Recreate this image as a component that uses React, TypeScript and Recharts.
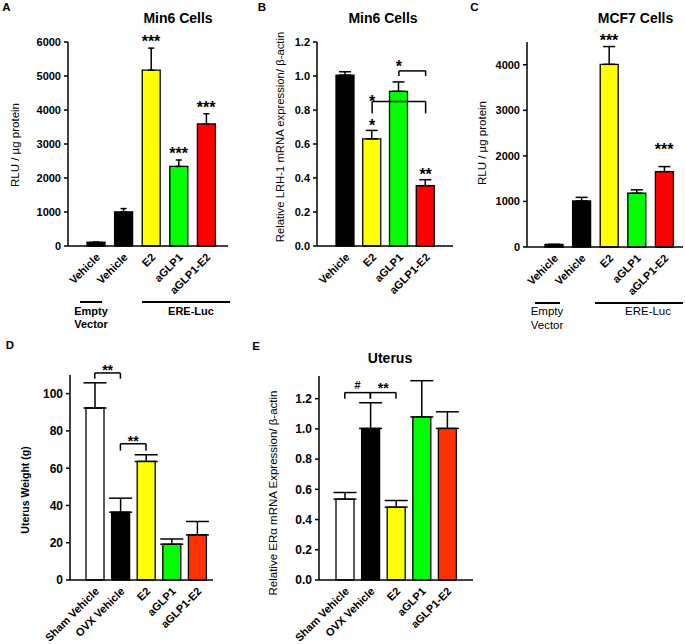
import React from 'react';
import { BarChart, Bar, XAxis, YAxis, ErrorBar, Cell, ReferenceLine, ReferenceDot } from 'recharts';

const FONT = '"Liberation Sans", Arial, Helvetica, sans-serif';

// A - Min6 cells, ERE-Luc reporter
const aGroups = ['Empty Vehicle', 'Vehicle', 'E2', 'aGLP1', 'aGLP1-E2'];
const aLabels = ['Vehicle', 'Vehicle', 'E2', 'aGLP1', 'aGLP1-E2'];
const aMean = [110, 1005, 5170, 2340, 3590];
const aSem = [0, 95, 650, 190, 300];
const aColors = ['#000000', '#000000', '#FFFF00', '#00FF00', '#FF0000'];
const aTicks = [0, 1000, 2000, 3000, 4000, 5000, 6000];
const aStars = [
  { x: 'E2', y: 5820, text: '***' },
  { x: 'aGLP1', y: 2530, text: '***' },
  { x: 'aGLP1-E2', y: 3890, text: '***' },
];

// B - Min6 cells, LRH-1 mRNA
const bGroups = ['Vehicle', 'E2', 'aGLP1', 'aGLP1-E2'];
const bLabels = ['Vehicle', 'E2', 'aGLP1', 'aGLP1-E2'];
const bMean = [1.005, 0.63, 0.91, 0.355];
const bSem = [0.02, 0.05, 0.055, 0.035];
const bColors = ['#000000', '#FFFF00', '#00FF00', '#FF0000'];
const bTicks = [0, 0.2, 0.4, 0.6, 0.8, 1.0, 1.2];
const bStars = [
  { x: 'E2', y: 0.67, text: '*' },
  { x: 'aGLP1-E2', y: 0.385, text: '**' },
  { x: 'aGLP1', y: 1.015, text: '*' },
  { x: 'E2', y: 0.81, text: '*' },
];
const bBrackets = [
  { from: 'aGLP1', to: 'aGLP1-E2', y: 1.03, foot: 1.0, text: '' },
  { from: 'E2', to: 'aGLP1-E2', y: 0.85, foot: 0.78, text: '' },
];

// C - MCF7 cells, ERE-Luc reporter
const cGroups = ['Empty Vehicle', 'Vehicle', 'E2', 'aGLP1', 'aGLP1-E2'];
const cLabels = ['Vehicle', 'Vehicle', 'E2', 'aGLP1', 'aGLP1-E2'];
const cMean = [55, 1010, 4010, 1180, 1655];
const cSem = [0, 80, 390, 75, 110];
const cColors = ['#000000', '#000000', '#FFFF00', '#00FF00', '#FF0000'];
const cTicks = [0, 1000, 2000, 3000, 4000];
const cStars = [
  { x: 'E2', y: 4400, text: '***' },
  { x: 'aGLP1-E2', y: 1990, text: '***' },
];

// D - uterus weight
const dGroups = ['Sham Vehicle', 'OVX Vehicle', 'E2', 'aGLP1', 'aGLP1-E2'];
const dLabels = ['Sham Vehicle', 'OVX Vehicle', 'E2', 'aGLP1', 'aGLP1-E2'];
const dMean = [92.3, 36.4, 63.6, 19.2, 24.2];
const dSem = [13.5, 7.5, 3.6, 2.8, 7.2];
const dColors = ['#FFFFFF', '#000000', '#FFFF00', '#00FF00', '#FF3300'];
const dTicks = [0, 20, 40, 60, 80, 100];
const dBrackets = [
  { from: 'Sham Vehicle', to: 'OVX Vehicle', y: 111.1, foot: 108, text: '**' },
  { from: 'OVX Vehicle', to: 'E2', y: 73.1, foot: 69.4, text: '**' },
];

// E - uterus ERalpha mRNA
const eGroups = ['Sham Vehicle', 'OVX Vehicle', 'E2', 'aGLP1', 'aGLP1-E2'];
const eLabels = ['Sham Vehicle', 'OVX Vehicle', 'E2', 'aGLP1', 'aGLP1-E2'];
const eMean = [0.535, 1.003, 0.482, 1.079, 1.003];
const eSem = [0.044, 0.17, 0.044, 0.24, 0.11];
const eColors = ['#FFFFFF', '#000000', '#FFFF00', '#00FF00', '#FF3300'];
const eTicks = [0, 0.2, 0.4, 0.6, 0.8, 1.0, 1.2];
const eBrackets = [
  { from: 'Sham Vehicle', to: 'OVX Vehicle', y: 1.24, foot: 1.2, text: '#' },
  { from: 'OVX Vehicle', to: 'E2', y: 1.24, foot: 1.2, text: '**' },
];

type Star = { x: string; y: number; text: string };
type Bracket = { from: string; to: string; y: number; foot: number; text: string };

const SlantTick = (props: any) => {
  const { x, y, index, labels } = props;
  const px = x + 5;
  const py = y + 12;
  return (
    <text x={px} y={py} transform={`rotate(-45 ${px} ${py})`} textAnchor="end"
      fontSize={11} fontWeight="bold" fontFamily={FONT} fill="#000">
      {labels[index]}
    </text>
  );
};

const ValueTick = (props: any) => {
  const { x, y, payload, digits, size } = props;
  return (
    <text x={x} y={y} dy="0.36em" textAnchor="end" fontSize={size} fontWeight="bold"
      fontFamily={FONT} fill="#000">
      {Number(payload.value).toFixed(digits)}
    </text>
  );
};

function Panel(p: {
  left: number; top: number; width: number; height: number;
  mTop: number; mRight: number; yWidth: number; xHeight: number;
  padL: number; padR: number; max: number; ticks: number[]; digits: number;
  groups: string[]; labels: string[]; mean: number[]; sem: number[]; colors: string[];
  cap: number; tickFont: number; stars?: Star[]; brackets?: Bracket[];
  starFont: number; bracketLift: number;
}) {
  const rows = p.groups.map((g, i) => ({ name: g, mean: p.mean[i], err: [0, p.sem[i]] }));
  const line = { stroke: '#000', strokeWidth: 1.5 };
  return (
    <div style={{ position: 'absolute', left: p.left, top: p.top }}>
      <BarChart width={p.width} height={p.height} data={rows}
        margin={{ top: p.mTop, right: p.mRight, bottom: 0, left: 0 }}>
        <XAxis dataKey="name" interval={0} height={p.xHeight} tickSize={0} tickMargin={0}
          padding={{ left: p.padL, right: p.padR }} tickLine={false} axisLine={line}
          tick={<SlantTick labels={p.labels} />} />
        <YAxis width={p.yWidth} domain={[0, p.max]} ticks={p.ticks} interval={0}
          tick={<ValueTick digits={p.digits} size={p.tickFont} />}
          tickSize={4} tickMargin={3} tickLine={line} axisLine={line} />
        <Bar dataKey="mean" barSize={18} stroke="#000" strokeWidth={1.3} isAnimationActive={false}>
          {rows.map((r, i) => <Cell key={i} fill={p.colors[i]} />)}
          <ErrorBar dataKey="err" width={p.cap} stroke="#000" strokeWidth={1.5} direction="y" />
        </Bar>
        {(p.brackets || []).flatMap((b, i) => [
          <ReferenceLine key={`h${i}`} ifOverflow="visible" {...line}
            segment={[{ x: b.from, y: b.y }, { x: b.to, y: b.y }]}
            label={b.text ? {
              value: b.text, position: 'top',
              offset: b.text === '#' ? 4 : p.bracketLift,
              fontSize: b.text === '#' ? 11 : p.starFont, fontWeight: 'bold', fill: '#000', fontFamily: FONT,
            } : undefined} />,
          <ReferenceLine key={`l${i}`} ifOverflow="visible" {...line}
            segment={[{ x: b.from, y: b.y }, { x: b.from, y: b.foot }]} />,
          <ReferenceLine key={`r${i}`} ifOverflow="visible" {...line}
            segment={[{ x: b.to, y: b.y }, { x: b.to, y: b.foot }]} />,
        ])}
        {(p.stars || []).map((s, i) => (
          <ReferenceDot key={`s${i}`} x={s.x} y={s.y} r={0} fill="none" stroke="none" ifOverflow="visible"
            label={{ value: s.text, position: 'top', offset: 1, fontSize: p.starFont, fontWeight: 'bold', fill: '#000', fontFamily: FONT }} />
        ))}
      </BarChart>
    </div>
  );
}

const Txt = (p: { x: number; y: number; text: string; size: number; bold?: boolean; rotate?: boolean }) => (
  <div style={{
    position: 'absolute', left: p.x, top: p.y, whiteSpace: 'nowrap', lineHeight: 1,
    fontSize: p.size, fontWeight: p.bold ? 'bold' : 'normal', fontFamily: FONT, color: '#000',
    transform: `translate(-50%, -50%)${p.rotate ? ' rotate(-90deg)' : ''}`,
  }}>{p.text}</div>
);

const HLine = (p: { x1: number; x2: number; y: number }) => (
  <div style={{ position: 'absolute', left: p.x1, top: p.y - 1, width: p.x2 - p.x1, height: 2, background: '#000' }} />
);

export default function App() {
  return (
    <div style={{ position: 'absolute', left: 0, top: 0, width: 685, height: 644, background: '#fff', overflow: 'hidden' }}>
      <Panel left={0} top={0} width={235} height={300} mTop={42} mRight={7} yWidth={68} xHeight={54}
        padL={14} padR={8} max={6000} ticks={aTicks} digits={0}
        groups={aGroups} labels={aLabels} mean={aMean} sem={aSem} colors={aColors} cap={3} tickFont={11}
        stars={aStars} starFont={16} bracketLift={0} />
      <Panel left={235} top={0} width={225} height={300} mTop={42} mRight={7} yWidth={82} xHeight={54}
        padL={15} padR={14} max={1.2} ticks={bTicks} digits={1}
        groups={bGroups} labels={bLabels} mean={bMean} sem={bSem} colors={bColors} cap={6} tickFont={11}
        stars={bStars} brackets={bBrackets} starFont={16} bracketLift={0} />
      <Panel left={460} top={0} width={225} height={300} mTop={42} mRight={2} yWidth={67} xHeight={53}
        padL={13} padR={5} max={4500} ticks={cTicks} digits={0}
        groups={cGroups} labels={cLabels} mean={cMean} sem={cSem} colors={cColors} cap={6} tickFont={11}
        stars={cStars} starFont={16} bracketLift={0} />
      <Panel left={0} top={330} width={235} height={314} mTop={45} mRight={22} yWidth={70} xHeight={64}
        padL={12} padR={3} max={110} ticks={dTicks} digits={0}
        groups={dGroups} labels={dLabels} mean={dMean} sem={dSem} colors={dColors} cap={11.5} tickFont={12}
        brackets={dBrackets} starFont={14} bracketLift={-2.5} />
      <Panel left={235} top={330} width={250} height={314} mTop={46} mRight={12} yWidth={84} xHeight={64}
        padL={13} padR={13} max={1.35} ticks={eTicks} digits={1}
        groups={eGroups} labels={eLabels} mean={eMean} sem={eSem} colors={eColors} cap={11.5} tickFont={12}
        brackets={eBrackets} starFont={14} bracketLift={0} />

      <Txt x={6.5} y={7.8} text="A" size={11.5} bold />
      <Txt x={262} y={7.8} text="B" size={11.5} bold />
      <Txt x={474.5} y={7.8} text="C" size={11.5} bold />
      <Txt x={10} y={346} text="D" size={11.5} bold />
      <Txt x={256} y={347} text="E" size={11.5} bold />

      <Txt x={178} y={18} text="Min6 Cells" size={14} bold />
      <Txt x={383} y={18} text="Min6 Cells" size={14} bold />
      <Txt x={635.5} y={18.3} text="MCF7 Cells" size={14} bold />
      <Txt x={390} y={358} text="Uterus" size={14} bold />

      <Txt x={16} y={145} text="RLU / µg protein" size={11.5} rotate />
      <Txt x={281} y={137} text="Relative LRH-1 mRNA expression/ β-actin" size={11.3} rotate />
      <Txt x={483} y={142.5} text="RLU / µg protein" size={11.5} rotate />
      <Txt x={25} y={490} text="Uterus Weight (g)" size={10.5} bold rotate />
      <Txt x={274} y={492.5} text="Relative ERα mRNA Expression/ β-actin" size={11.5} rotate />

      <HLine x1={80} x2={102} y={301.7} />
      <HLine x1={142} x2={230} y={301.7} />
      <Txt x={91} y={311} text="Empty" size={11} bold />
      <Txt x={91} y={324} text="Vector" size={11} bold />
      <Txt x={191} y={311} text="ERE-Luc" size={11} bold />

      <HLine x1={535} x2={560} y={303.3} />
      <HLine x1={595} x2={683} y={303.3} />
      <Txt x={547} y={311.7} text="Empty" size={11.5} />
      <Txt x={547} y={325.8} text="Vector" size={11.5} />
      <Txt x={648} y={311.7} text="ERE-Luc" size={11.5} />
    </div>
  );
}
